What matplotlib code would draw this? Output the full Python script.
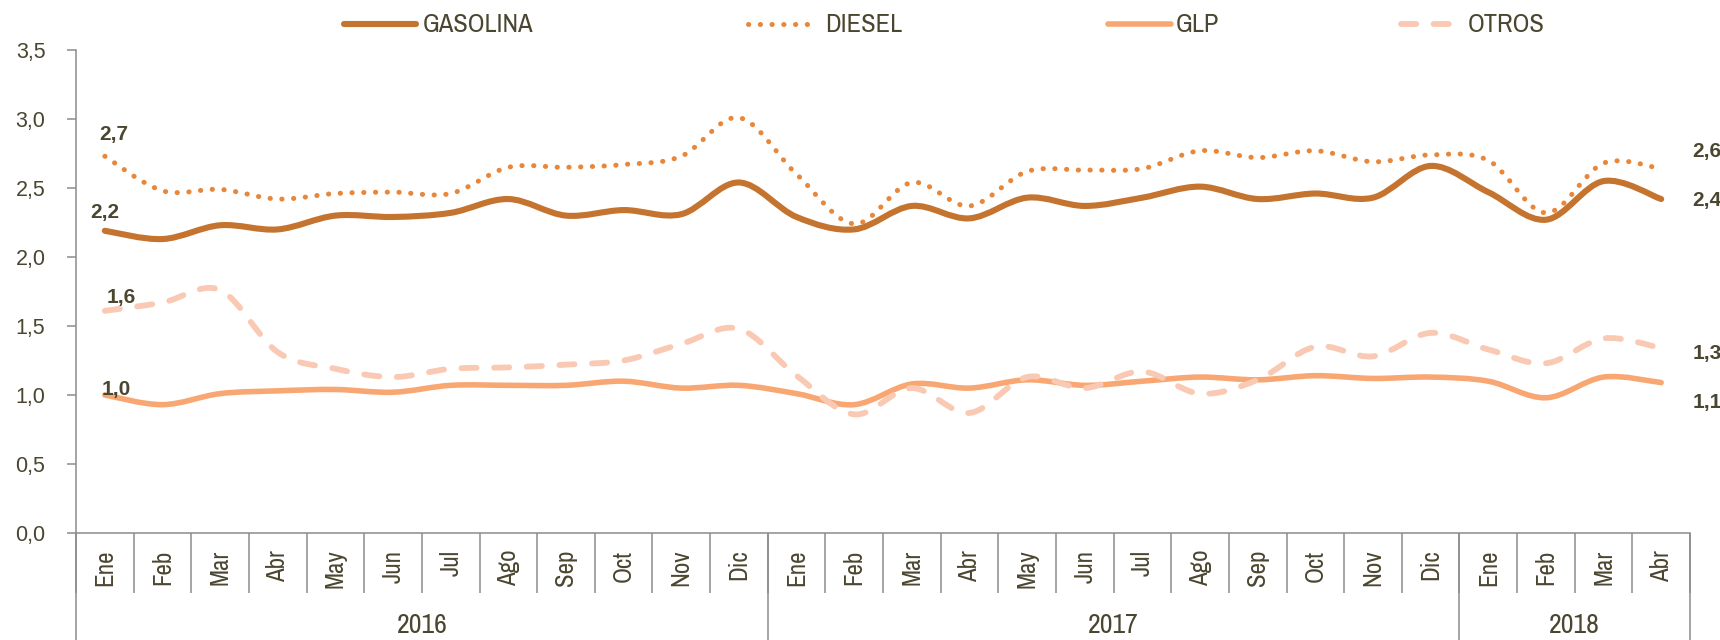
import matplotlib
matplotlib.use('Agg')
import matplotlib.pyplot as plt
from matplotlib.path import Path
from matplotlib.patches import PathPatch
from matplotlib.lines import Line2D
import numpy as np

# datos (ene 2016 - abr 2018)
meses = ['Ene', 'Feb', 'Mar', 'Abr', 'May', 'Jun', 'Jul', 'Ago', 'Sep', 'Oct', 'Nov', 'Dic',
         'Ene', 'Feb', 'Mar', 'Abr', 'May', 'Jun', 'Jul', 'Ago', 'Sep', 'Oct', 'Nov', 'Dic',
         'Ene', 'Feb', 'Mar', 'Abr']
anios = ['2016', '2017', '2018']
meses_por_anio = [12, 12, 4]

gasolina = [2.19, 2.13, 2.23, 2.20, 2.30, 2.29, 2.32, 2.42, 2.30, 2.34, 2.31, 2.54,
            2.29, 2.20, 2.37, 2.28, 2.43, 2.37, 2.43, 2.51, 2.42, 2.46, 2.43, 2.66,
            2.47, 2.27, 2.55, 2.42]
diesel = [2.73, 2.48, 2.49, 2.42, 2.46, 2.47, 2.46, 2.65, 2.65, 2.67, 2.73, 3.01,
          2.60, 2.24, 2.54, 2.37, 2.62, 2.63, 2.64, 2.77, 2.72, 2.77, 2.69, 2.74,
          2.70, 2.32, 2.68, 2.64]
glp = [1.00, 0.93, 1.01, 1.03, 1.04, 1.02, 1.07, 1.07, 1.07, 1.10, 1.05, 1.07,
       1.01, 0.93, 1.08, 1.05, 1.11, 1.07, 1.10, 1.13, 1.11, 1.14, 1.12, 1.13,
       1.10, 0.98, 1.13, 1.09]
otros = [1.61, 1.67, 1.76, 1.31, 1.19, 1.13, 1.19, 1.20, 1.22, 1.25, 1.37, 1.48,
         1.14, 0.86, 1.05, 0.87, 1.13, 1.05, 1.17, 1.01, 1.11, 1.35, 1.28, 1.45,
         1.33, 1.23, 1.41, 1.34]

TXT = '#4a4630'
GRIS = '#8c8c8c'
NARROW = ['Archivo Narrow', 'Liberation Sans', 'DejaVu Sans']
SANS = ['Liberation Sans', 'DejaVu Sans']


def curva_suave(xs, ys):  # curva tipo "linea suavizada" de Excel (bezier cubica)
    pts = np.column_stack([xs, ys])
    n = len(pts)
    verts = [pts[0]]
    codes = [Path.MOVETO]
    for i in range(n - 1):
        p0 = pts[max(i - 1, 0)]
        p1 = pts[i]
        p2 = pts[i + 1]
        p3 = pts[min(i + 2, n - 1)]
        verts += [p1 + (p2 - p0) / 6.0, p2 - (p3 - p1) / 6.0, p2]
        codes += [Path.CURVE4] * 3
    return Path(verts, codes)


def fmt(v):
    return f'{v:.1f}'.replace('.', ',')


series = [
    ('GASOLINA', gasolina, dict(color='#c5742f', lw=4.4, ls='-')),
    ('DIESEL', diesel, dict(color='#e8863a', lw=3.6, ls=(0, (0.05, 2.3)))),
    ('GLP', glp, dict(color='#f9a772', lw=4.0, ls='-')),
    ('OTROS', otros, dict(color='#f9c9b3', lw=4.2, ls=(0, (2.6, 3.0)))),
]

fig = plt.figure(figsize=(17.2, 6.4), dpi=100)
ax = fig.add_axes([76 / 1720, 107 / 640, 1614 / 1720, 483 / 640])

x = np.arange(len(meses)) + 0.5
for nombre, vals, st in series:
    patch = PathPatch(curva_suave(x, vals), fill=False, edgecolor=st['color'],
                      lw=st['lw'], ls=st['ls'], capstyle='round', joinstyle='round',
                      clip_on=False)
    ax.add_patch(patch)

ax.set_xlim(0, len(meses))
ax.set_ylim(0, 3.5)
yt = np.arange(0, 3.51, 0.5)
ax.set_yticks(yt, [fmt(v) for v in yt])
ax.tick_params(axis='y', direction='out', length=6.5, width=1.1, color=GRIS,
               pad=15.5, labelsize=15.5, labelcolor=TXT)
for lab in ax.get_yticklabels():
    lab.set_family(SANS)

ax.set_xticks(x, meses, rotation=90)
ax.tick_params(axis='x', which='major', length=0, pad=12, labelsize=18, labelcolor=TXT)
for lab in ax.get_xticklabels():
    lab.set_family(NARROW)
ax.set_xticks(np.arange(0, len(meses) + 1), minor=True)
ax.tick_params(axis='x', which='minor', direction='out', length=43, width=1.1, color=GRIS)

for s in ['top', 'right']:
    ax.spines[s].set_visible(False)
for s in ['left', 'bottom']:
    ax.spines[s].set_color(GRIS)
    ax.spines[s].set_linewidth(1.1)

# separadores y etiquetas de anio
limites = np.concatenate([[0], np.cumsum(meses_por_anio)])
ax.vlines(limites, -0.222, 0, transform=ax.get_xaxis_transform(), colors=GRIS,
          lw=1.1, clip_on=False)
for i, a in enumerate(anios):
    ax.text((limites[i] + limites[i + 1]) / 2, -0.192, a, transform=ax.get_xaxis_transform(),
            ha='center', va='center', fontsize=20, color=TXT, family=NARROW)

# etiquetas de datos
kw = dict(textcoords='offset pixels', fontsize=15, fontweight='bold', color=TXT,
          family=SANS, va='center', annotation_clip=False)
ax.annotate(fmt(diesel[0]), (x[0], diesel[0]), xytext=(9, 22), ha='center', **kw)
ax.annotate(fmt(gasolina[0]), (x[0], gasolina[0]), xytext=(0, 18), ha='center', **kw)
ax.annotate(fmt(otros[0]), (x[0], otros[0]), xytext=(16, 13), ha='center', **kw)
ax.annotate(fmt(glp[0]), (x[0], glp[0]), xytext=(11, 6), ha='center', **kw)
ax.annotate(fmt(diesel[-1]), (x[-1], diesel[-1]), xytext=(31, 17), ha='left', **kw)
ax.annotate(fmt(gasolina[-1]), (x[-1], gasolina[-1]), xytext=(31, -1), ha='left', **kw)
ax.annotate(fmt(otros[-1]), (x[-1], otros[-1]), xytext=(31, -5), ha='left', **kw)
ax.annotate(fmt(glp[-1]), (x[-1], glp[-1]), xytext=(31, -20), ha='left', **kw)

# leyenda
pos_leyenda = [(344, 416, 423), (748, 810, 825), (1108, 1171, 1176), (1401, 1455, 1468)]
yl = 1 - 24 / 640
for (nombre, vals, st), (h0, h1, tx) in zip(series, pos_leyenda):
    fig.add_artist(Line2D([h0 / 1720, h1 / 1720], [yl, yl], transform=fig.transFigure,
                          color=st['color'], lw=st['lw'], ls=st['ls'],
                          solid_capstyle='round', dash_capstyle='round'))
    fig.text(tx / 1720, yl, nombre, ha='left', va='center', fontsize=19, color=TXT,
             family=NARROW)

fig.savefig('out.png', dpi=100)
